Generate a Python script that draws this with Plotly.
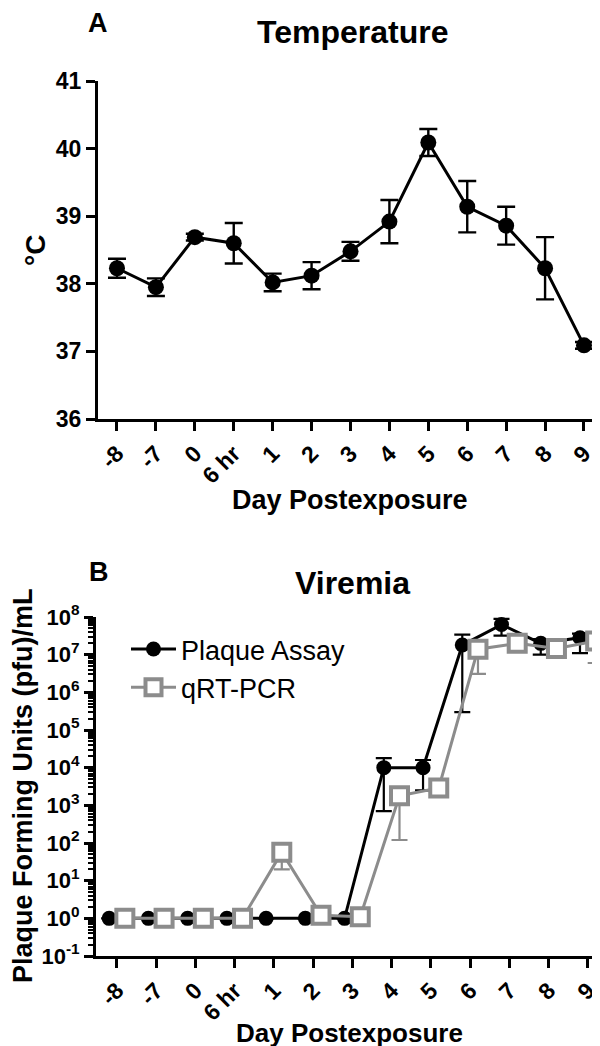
import plotly.graph_objects as go

# ---------------- data ----------------
days = ["-8", "-7", "0", "6 hr", "1", "2", "3", "4", "5", "6", "7", "8", "9"]

temp_mean = [38.23, 37.95, 38.69, 38.60, 38.02, 38.12, 38.48, 38.92, 40.09, 39.14, 38.86, 38.23, 37.09]
temp_err = [0.14, 0.13, 0.05, 0.30, 0.13, 0.20, 0.14, 0.32, 0.20, 0.38, 0.28, 0.46, 0.05]

plaque_mean = [1, 1, 1, 1, 1, 1, 1, 1.0e4, 1.0e4, 1.8e7, 6.3e7, 2.0e7, 2.8e7]
plaque_err_plus = [0, 0, 0, 0, 0, 0, 0, 0.8e4, 0.6e4, 1.6e7, 2.6e7, 0.6e7, 0.8e7]
plaque_err_minus = [0, 0, 0, 0, 0, 0, 0, 0.93e4, 0.75e4, 1.77e7, 3.1e7, 1.0e7, 1.7e7]

qpcr_mean = [1, 1, 1, 1, 57, 1.2, 1.1, 1.8e3, 2.9e3, 1.4e7, 2.0e7, 1.45e7, 2.3e7]
qpcr_err_plus = [0, 0, 0, 0, 10, 0, 0, 0.5e3, 0.5e3, 0.3e7, 0.3e7, 0.2e7, 0.4e7]
qpcr_err_minus = [0, 0, 0, 0, 37, 0, 0, 1.68e3, 0.5e3, 1.09e7, 0.3e7, 0.2e7, 1.7e7]

y_exponents = [-1, 0, 1, 2, 3, 4, 5, 6, 7, 8]

# ---------------- style ----------------
FONT = "Liberation Sans, Arial, sans-serif"
GRAY = "#8c8c8c"
W, H = 600.0, 1046.0
pos = list(range(len(days)))
offset = 0.2

fig = go.Figure()

# Panel A: Temperature
fig.add_trace(go.Scatter(
    x=pos, y=temp_mean, mode="lines+markers",
    line=dict(color="black", width=3),
    marker=dict(symbol="circle", size=16, color="black"),
    error_y=dict(type="data", array=temp_err, color="black", thickness=2.4, width=9),
    xaxis="x", yaxis="y", showlegend=False,
))

# Panel B: Viremia
fig.add_trace(go.Scatter(
    x=[p - offset for p in pos], y=plaque_mean, mode="lines+markers",
    name="Plaque Assay",
    line=dict(color="black", width=3),
    marker=dict(symbol="circle", size=15, color="black"),
    error_y=dict(type="data", symmetric=False, array=plaque_err_plus,
                 arrayminus=plaque_err_minus, color="black", thickness=2.2, width=8),
    xaxis="x2", yaxis="y2",
))
fig.add_trace(go.Scatter(
    x=[p + offset for p in pos], y=qpcr_mean, mode="lines+markers",
    name="qRT-PCR",
    line=dict(color=GRAY, width=3),
    marker=dict(symbol="square", size=17, color="white", line=dict(color=GRAY, width=4)),
    error_y=dict(type="data", symmetric=False, array=qpcr_err_plus,
                 arrayminus=qpcr_err_minus, color=GRAY, thickness=2.2, width=8),
    xaxis="x2", yaxis="y2",
))

axis_common = dict(
    showline=True, linecolor="black", linewidth=3, mirror=False,
    ticks="outside", ticklen=9, tickwidth=3, tickcolor="black",
    showgrid=False, zeroline=False, automargin=False,
)
tick_font = dict(family=FONT, size=23, color="black", weight="bold")


def txt(text, x, y, size, bold=True, angle=0):
    return dict(text=text, x=x / W, y=1 - y / H, xref="paper", yref="paper",
                showarrow=False, textangle=angle, xanchor="center", yanchor="middle",
                font=dict(family=FONT, size=size, color="black",
                          weight="bold" if bold else "normal"))


fig.update_layout(
    template="none",
    width=600, height=1046,
    margin=dict(l=0, r=0, t=0, b=0, autoexpand=False),
    paper_bgcolor="white", plot_bgcolor="white",
    font=dict(family=FONT, color="black"),
    xaxis=dict(
        domain=[90 / W, 597 / W], range=[-0.488, 12.54], anchor="y",
        tickmode="array", tickvals=pos, ticktext=days, tickangle=-45,
        tickfont=tick_font, **axis_common,
    ),
    yaxis=dict(
        domain=[1 - 411 / H, 1 - 73 / H], range=[36, 41], anchor="x",
        tickmode="linear", dtick=1,
        tickfont=tick_font, **axis_common,
    ),
    xaxis2=dict(
        domain=[88 / W, 592 / W], range=[-0.535, 12.31], anchor="y2",
        tickmode="array", tickvals=pos, ticktext=days, tickangle=-45,
        tickfont=tick_font, **axis_common,
    ),
    yaxis2=dict(
        domain=[1 - 948 / H, 1 - 609 / H], type="log", range=[-1, 8], anchor="x2",
        tickmode="array", tickvals=[10.0 ** e for e in y_exponents],
        ticktext=["10<sup>%d</sup>" % e for e in y_exponents],
        minor=dict(ticks="outside", ticklen=5, tickwidth=2, tickcolor="black", dtick="D1"),
        tickfont=dict(family=FONT, size=22, color="black", weight="bold"),
        **axis_common,
    ),
    showlegend=True,
    legend=dict(
        x=118 / W, y=1 - 617 / H, xanchor="left", yanchor="top",
        font=dict(family=FONT, size=27, color="black"),
        bgcolor="rgba(0,0,0,0)", itemwidth=45, traceorder="normal",
    ),
    annotations=[
        txt("A", 90, 15, 27),
        txt("Temperature", 344, 24, 32),
        txt("°C", 28, 243, 28, angle=-90),
        txt("Day Postexposure", 342, 492, 27),
        txt("B", 91, 564, 27),
        txt("Viremia", 344, 575, 32),
        txt("Plaque Forming Units (pfu)/mL", 15, 778, 27, angle=-90),
        txt("Day Postexposure", 342, 1025, 26),
    ],
)

fig.write_html("out.html")
